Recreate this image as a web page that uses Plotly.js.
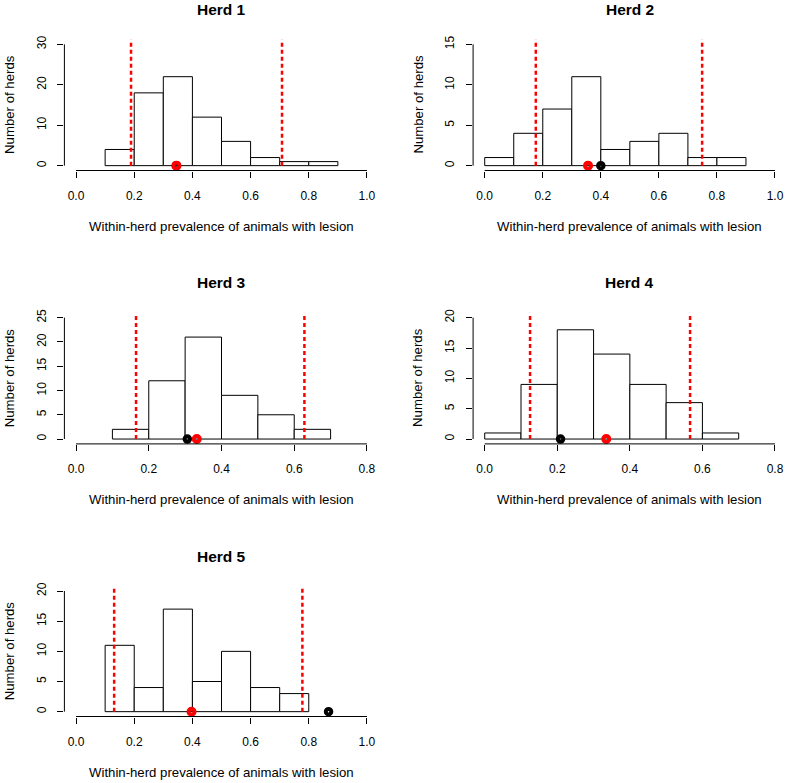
<!DOCTYPE html>
<html><head><meta charset="utf-8">
<script src="https://cdn.plot.ly/plotly-3.0.1.min.js"></script>
<style>body{margin:0;background:#fff}#chart{width:787px;height:783px}</style>
</head><body><div id="chart"></div>
<script>
// ---- data ----
const herdNames = ["Herd 1", "Herd 2", "Herd 3", "Herd 4", "Herd 5"];
const binWidth = 0.1;
const binStart1 = [0.1, 0.2, 0.3, 0.4, 0.5, 0.6, 0.7, 0.8];
const counts1   = [4, 18, 22, 12, 6, 2, 1, 1];
const binStart2 = [0.0, 0.1, 0.2, 0.3, 0.4, 0.5, 0.6, 0.7, 0.8];
const counts2   = [1, 4, 7, 11, 2, 3, 4, 1, 1];
const binStart3 = [0.1, 0.2, 0.3, 0.4, 0.5, 0.6];
const counts3   = [2, 12, 21, 9, 5, 2];
const binStart4 = [0.0, 0.1, 0.2, 0.3, 0.4, 0.5, 0.6];
const counts4   = [1, 9, 18, 14, 9, 6, 1];
const binStart5 = [0.1, 0.2, 0.3, 0.4, 0.5, 0.6, 0.7];
const counts5   = [11, 4, 17, 5, 10, 4, 3];
const blackPoint = [0.345, 0.400, 0.306, 0.209, 0.868];
const redPoint   = [0.345, 0.356, 0.332, 0.335, 0.397];
const ciLower    = [0.189, 0.176, 0.165, 0.125, 0.131];
const ciUpper    = [0.708, 0.749, 0.628, 0.566, 0.778];
const xTickMax   = [1.0, 1.0, 0.8, 0.8, 1.0];
const yTickMax   = [30, 15, 25, 20, 20];
const yTickStep  = [10, 5, 5, 5, 5];
const xTitle = "Within-herd prevalence of animals with lesion";
const yTitle = "Number of herds";

const binStarts = [binStart1, binStart2, binStart3, binStart4, binStart5];
const counts = [counts1, counts2, counts3, counts4, counts5];

// ---- layout geometry (pixels) ----
const W = 787, H = 783;
const cols = [[64.4, 378.6], [473.1, 786.6]];
const rows = [[39.5, 170.5], [312.8, 443.9], [586.2, 716.5]];
const FONT = "Liberation Sans, Arial, Helvetica, sans-serif";

const data = [];
const layout = {
  width: W, height: H,
  margin: {l: 0, r: 0, t: 0, b: 0},
  paper_bgcolor: "#fff", plot_bgcolor: "#fff",
  showlegend: false,
  font: {family: FONT, size: 12, color: "#000"},
  shapes: [], annotations: []
};

for (let i = 0; i < 5; i++) {
  const s = i === 0 ? "" : String(i + 1);
  const xa = "x" + s, ya = "y" + s;
  const col = cols[i % 2], row = rows[Math.floor(i / 2)];
  const xr = [-0.04 * xTickMax[i], 1.04 * xTickMax[i]];
  const yr = [-0.04 * yTickMax[i], 1.04 * yTickMax[i]];

  data.push({
    type: "bar", x: binStarts[i], y: counts[i], offset: 0, width: binWidth,
    xaxis: xa, yaxis: ya,
    marker: {color: "#ffffff", line: {color: "#000", width: 1}},
    hoverinfo: "x+y"
  });
  data.push({
    type: "scatter", mode: "markers", x: [blackPoint[i]], y: [0],
    xaxis: xa, yaxis: ya, cliponaxis: false,
    marker: {symbol: "circle-open", size: 5.5, color: "#000", line: {color: "#000", width: 4}}
  });
  data.push({
    type: "scatter", mode: "markers", x: [redPoint[i]], y: [0],
    xaxis: xa, yaxis: ya, cliponaxis: false,
    marker: {symbol: "circle-open", size: 6, color: "#ff0000", line: {color: "#ff0000", width: 4}}
  });

  const xk = "xaxis" + s, yk = "yaxis" + s;
  layout[xk] = {
    domain: [col[0] / W, col[1] / W], anchor: ya, range: xr,
    showgrid: false, zeroline: false, showline: false,
    ticks: "outside", ticklen: 6, tickwidth: 1, tickcolor: "#000",
    tick0: 0, dtick: 0.2, tickformat: ".1f", ticklabelstandoff: 8,
    tickfont: {family: FONT, size: 12, color: "#000"}
  };
  layout[yk] = {
    domain: [1 - row[1] / H, 1 - row[0] / H], anchor: xa, range: yr,
    showgrid: false, zeroline: false, showline: false,
    ticks: "outside", ticklen: 6, tickwidth: 1, tickcolor: "#000",
    tick0: 0, dtick: yTickStep[i], tickangle: -90, ticklabelstandoff: 7,
    tickfont: {family: FONT, size: 12, color: "#000"}
  };

  // axis lines spanning tick range only (R style)
  layout.shapes.push({type: "line", xref: xa, yref: ya + " domain",
    x0: 0, x1: xTickMax[i], y0: 0, y1: 0, line: {color: "#000", width: 1}});
  layout.shapes.push({type: "line", xref: xa + " domain", yref: ya,
    x0: 0, x1: 0, y0: 0, y1: yTickMax[i], line: {color: "#000", width: 1}});
  // red dotted interval lines
  [ciLower[i], ciUpper[i]].forEach(v => {
    layout.shapes.push({type: "line", xref: xa, yref: ya,
      x0: v, x1: v, y0: 0, y1: yr[1],
      line: {color: "#ff0000", width: 2.5, dash: "4px,3px"}});
  });

  const cx = (col[0] + col[1]) / 2;
  const titleY = row[0] - 30;
  layout.annotations.push({text: "<b>" + herdNames[i] + "</b>", xref: "paper", yref: "paper",
    x: cx / W, y: 1 - titleY / H, xanchor: "center", yanchor: "middle", showarrow: false,
    font: {family: FONT, size: 15.5, color: "#000"}});
  layout.annotations.push({text: xTitle, xref: "paper", yref: "paper",
    x: cx / W, y: 1 - (row[1] + 56) / H, xanchor: "center", yanchor: "middle", showarrow: false,
    font: {family: FONT, size: 13.2, color: "#000"}});
  layout.annotations.push({text: yTitle, xref: "paper", yref: "paper",
    x: (col[0] - 55) / W, y: 1 - ((row[0] + row[1]) / 2 - 0.5) / H, xanchor: "center", yanchor: "middle",
    textangle: -90, showarrow: false,
    font: {family: FONT, size: 13.2, color: "#000"}});
}

Plotly.newPlot("chart", data, layout, {displayModeBar: false, staticPlot: true});
</script>
</body></html>
